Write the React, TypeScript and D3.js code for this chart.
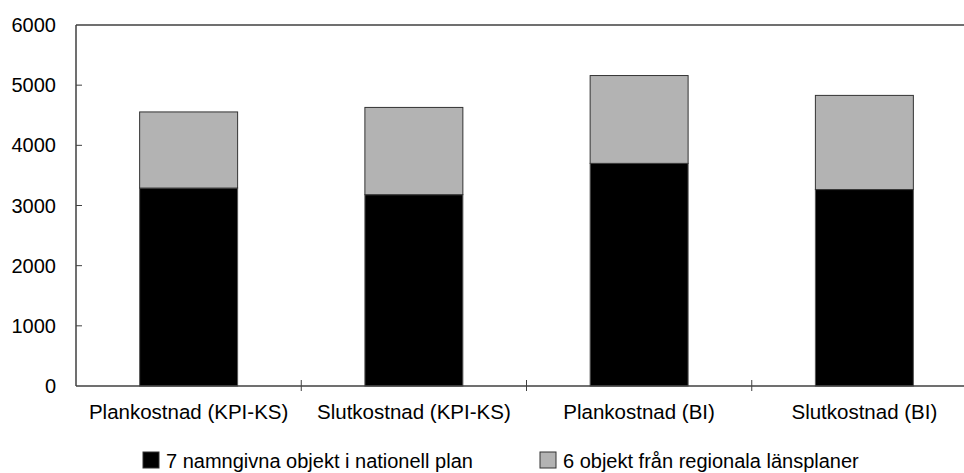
import React from "react";
import * as d3 from "d3";

const categories = ["Plankostnad (KPI-KS)", "Slutkostnad (KPI-KS)", "Plankostnad (BI)", "Slutkostnad (BI)"];
const nationalValues = [3290, 3180, 3700, 3265];
const regionalValues = [1265, 1450, 1460, 1565];
const seriesNames = ["7 namngivna objekt i nationell plan", "6 objekt från regionala länsplaner"];
const yTicks = [0, 1000, 2000, 3000, 4000, 5000, 6000];

const W = 964;
const H = 473;
const left = 76;
const right = 977;
const top = 25;
const bottom = 386;
const FONT = "'Liberation Sans', Arial, sans-serif";

export default function App() {
  const x = d3.scaleBand<string>().domain(categories).range([left, right]).padding(0);
  const y = d3.scaleLinear().domain([0, 6000]).range([bottom, top]);
  const bw = x.bandwidth() * 0.435;
  const axisColor = "#404040";

  return (
    <svg width={W} height={H} style={{ position: "absolute", left: 0, top: 0, background: "#fff" }}>
      {categories.map((c, i) => {
        const cx = (x(c) as number) + x.bandwidth() / 2;
        const n = nationalValues[i];
        const r = regionalValues[i];
        return (
          <g key={c}>
            <rect x={cx - bw / 2} y={y(n)} width={bw} height={y(0) - y(n)} fill="#000" stroke="#555" strokeWidth={1} />
            <rect x={cx - bw / 2} y={y(n + r)} width={bw} height={y(n) - y(n + r)} fill="#b3b3b3" stroke="#333" strokeWidth={1} />
          </g>
        );
      })}
      <line x1={left} x2={W} y1={top} y2={top} stroke={axisColor} strokeWidth={1.5} />
      <line x1={left} x2={left} y1={top} y2={bottom} stroke={axisColor} strokeWidth={1.5} />
      <line x1={left} x2={W} y1={bottom} y2={bottom} stroke={axisColor} strokeWidth={1.5} />
      {yTicks.map((t) => (
        <g key={t}>
          {t > 0 && t < 6000 && (
            <line x1={left} x2={left + 6} y1={y(t)} y2={y(t)} stroke={axisColor} strokeWidth={1} />
          )}
          <text x={56} y={y(t)} dy="0.35em" textAnchor="end" fontFamily={FONT} fontSize={20} fill="#000">
            {t}
          </text>
        </g>
      ))}
      {categories.map((c, i) => {
        const bx = x(c) as number;
        return i === 0 ? null : (
          <line key={c} x1={bx} x2={bx} y1={bottom - 6} y2={bottom + 5} stroke={axisColor} strokeWidth={1} />
        );
      })}
      {categories.map((c) => (
        <text
          key={c}
          x={(x(c) as number) + x.bandwidth() / 2}
          y={419}
          textAnchor="middle"
          fontFamily={FONT}
          fontSize={20.5}
          fill="#000"
        >
          {c}
        </text>
      ))}
      <rect x={143} y={452} width={16} height={16} fill="#000" stroke="#333" strokeWidth={1} />
      <text x={166} y={468} fontFamily={FONT} fontSize={20} fill="#000">{seriesNames[0]}</text>
      <rect x={540} y={452} width={16} height={16} fill="#b3b3b3" stroke="#333" strokeWidth={1} />
      <text x={563} y={468} fontFamily={FONT} fontSize={20} fill="#000">{seriesNames[1]}</text>
    </svg>
  );
}
